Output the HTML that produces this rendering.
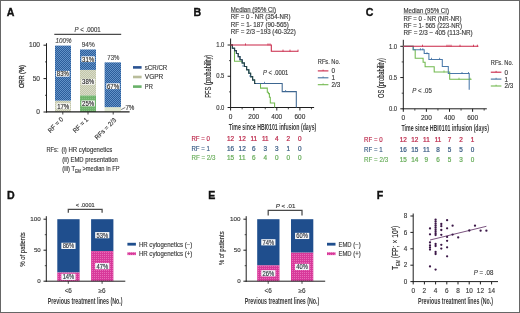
<!DOCTYPE html>
<html><head><meta charset="utf-8"><title>Figure</title>
<style>html,body{margin:0;padding:0;background:#fff;width:520px;height:313px;overflow:hidden;font-family:"Liberation Sans",sans-serif}svg{display:block;will-change:transform}</style>
</head><body><svg width="520" height="313" viewBox="0 0 520 313" font-family='"Liberation Sans", sans-serif'><defs>
<pattern id="pBlue" width="2" height="2" patternUnits="userSpaceOnUse"><rect width="2" height="2" fill="#2c5d9a"/><rect width="1" height="1" fill="#6292c8"/><rect x="1" y="1" width="1" height="1" fill="#6292c8"/></pattern>
<pattern id="pVg" width="2" height="2" patternUnits="userSpaceOnUse"><rect width="2" height="2" fill="#c2c6a8"/><rect width="1" height="1" fill="#d9dccb"/><rect x="1" y="1" width="1" height="1" fill="#d9dccb"/></pattern>
<pattern id="pPr" width="2" height="2" patternUnits="userSpaceOnUse"><rect width="2" height="2" fill="#6fb46c"/><rect width="1" height="1" fill="#86c283"/></pattern>
<pattern id="pPink" width="2" height="2" patternUnits="userSpaceOnUse"><rect width="2" height="2" fill="#d8399a"/><rect width="1" height="1" fill="#e86cb8"/></pattern>
</defs><rect x="0" y="0" width="520" height="313" fill="#fff"/><text x="6.8" y="15.6" font-size="10.6" fill="#111" font-weight="bold" stroke="#111" stroke-width="0.35">A</text><text x="193.5" y="15.7" font-size="10.6" fill="#111" font-weight="bold" stroke="#111" stroke-width="0.35">B</text><text x="365.8" y="16.3" font-size="10.6" fill="#111" font-weight="bold" stroke="#111" stroke-width="0.35">C</text><text x="7.0" y="199.0" font-size="10.6" fill="#111" font-weight="bold" stroke="#111" stroke-width="0.35">D</text><text x="208.2" y="199.2" font-size="10.6" fill="#111" font-weight="bold" stroke="#111" stroke-width="0.35">E</text><text x="376.8" y="199.2" font-size="10.6" fill="#111" font-weight="bold" stroke="#111" stroke-width="0.35">F</text><rect x="55" y="100.644" width="16" height="11.355999999999995" fill="url(#pVg)"/><rect x="55" y="45.60079999999999" width="16" height="55.04320000000001" fill="url(#pBlue)"/><rect x="80" y="95.3" width="16" height="16.700000000000003" fill="url(#pPr)"/><rect x="80" y="69.916" width="16" height="25.384" fill="url(#pVg)"/><rect x="80" y="49.4752" width="16" height="20.440799999999996" fill="url(#pBlue)"/><rect x="104.6" y="107.1236" width="16.4" height="4.876400000000004" fill="#dde5cf"/><rect x="104.6" y="62.3676" width="16.4" height="44.75599999999999" fill="url(#pBlue)"/><rect x="56.099999999999994" y="70.89999999999999" width="13.4" height="5.8" fill="#fafaf8"/><text x="62.8" y="76.25" font-size="6.8" fill="#262626" text-anchor="middle" textLength="12.0" lengthAdjust="spacingAndGlyphs" stroke="#262626" stroke-width="0.15">83%</text><rect x="56.5" y="103.3" width="13.4" height="5.8" fill="#fafaf8"/><text x="63.2" y="108.65" font-size="6.8" fill="#262626" text-anchor="middle" textLength="12.0" lengthAdjust="spacingAndGlyphs" stroke="#262626" stroke-width="0.15">17%</text><rect x="81.39999999999999" y="56.300000000000004" width="13.4" height="5.8" fill="#fafaf8"/><text x="88.1" y="61.650000000000006" font-size="6.8" fill="#262626" text-anchor="middle" textLength="12.0" lengthAdjust="spacingAndGlyphs" stroke="#262626" stroke-width="0.15">31%</text><rect x="81.39999999999999" y="78.89999999999999" width="13.4" height="5.8" fill="#fafaf8"/><text x="88.1" y="84.25" font-size="6.8" fill="#262626" text-anchor="middle" textLength="12.0" lengthAdjust="spacingAndGlyphs" stroke="#262626" stroke-width="0.15">38%</text><rect x="81.39999999999999" y="100.5" width="13.4" height="5.8" fill="#fafaf8"/><text x="88.1" y="105.85000000000001" font-size="6.8" fill="#262626" text-anchor="middle" textLength="12.0" lengthAdjust="spacingAndGlyphs" stroke="#262626" stroke-width="0.15">25%</text><rect x="106.3" y="83.3" width="13.4" height="5.8" fill="#fafaf8"/><text x="113.0" y="88.65" font-size="6.8" fill="#262626" text-anchor="middle" textLength="12.0" lengthAdjust="spacingAndGlyphs" stroke="#262626" stroke-width="0.15">67%</text><text x="63.6" y="42.6" font-size="6.4" fill="#4a4a4a" text-anchor="middle" font-style="italic" textLength="16" lengthAdjust="spacingAndGlyphs" stroke="#4a4a4a" stroke-width="0.15">100%</text><text x="88.2" y="46.6" font-size="6.4" fill="#4a4a4a" text-anchor="middle" textLength="13" lengthAdjust="spacingAndGlyphs" stroke="#4a4a4a" stroke-width="0.15">94%</text><text x="113.3" y="59.9" font-size="6.4" fill="#4a4a4a" text-anchor="middle" textLength="12" lengthAdjust="spacingAndGlyphs" stroke="#4a4a4a" stroke-width="0.15">73%</text><path d="M121.2,109.6 L125.3,107.4" stroke="#444" stroke-width="0.7" fill="none"/><text x="125.4" y="109.7" font-size="6.5" fill="#3a3a3a" textLength="9" lengthAdjust="spacingAndGlyphs" stroke="#3a3a3a" stroke-width="0.15">7%</text><line x1="46.5" y1="43.2" x2="46.5" y2="112.5" stroke="#1e1e1e" stroke-width="1"/><line x1="46" y1="111.9" x2="129.6" y2="111.9" stroke="#1e1e1e" stroke-width="1.25"/><line x1="43.5" y1="45.2" x2="46.5" y2="45.2" stroke="#1e1e1e" stroke-width="1"/><line x1="43.5" y1="78.6" x2="46.5" y2="78.6" stroke="#1e1e1e" stroke-width="1"/><line x1="43.5" y1="112.0" x2="46.5" y2="112.0" stroke="#1e1e1e" stroke-width="1"/><line x1="45" y1="61.9" x2="46.5" y2="61.9" stroke="#1e1e1e" stroke-width="0.8"/><line x1="45" y1="95.3" x2="46.5" y2="95.3" stroke="#1e1e1e" stroke-width="0.8"/><line x1="62.8" y1="112" x2="62.8" y2="114.5" stroke="#1e1e1e" stroke-width="0.8"/><line x1="88" y1="112" x2="88" y2="114.5" stroke="#1e1e1e" stroke-width="0.8"/><line x1="113.2" y1="112" x2="113.2" y2="114.5" stroke="#1e1e1e" stroke-width="0.8"/><text x="40" y="47.400000000000006" font-size="6.6" fill="#3a3a3a" text-anchor="end" stroke="#3a3a3a" stroke-width="0.15">100</text><text x="40" y="80.8" font-size="6.6" fill="#3a3a3a" text-anchor="end" stroke="#3a3a3a" stroke-width="0.15">50</text><text x="40" y="114.2" font-size="6.6" fill="#3a3a3a" text-anchor="end" stroke="#3a3a3a" stroke-width="0.15">0</text><text x="23.9" y="76.6" font-size="7.4" fill="#2e2e2e" text-anchor="middle" textLength="23" lengthAdjust="spacingAndGlyphs" transform="rotate(-90 23.9 76.6)" stroke="#2e2e2e" stroke-width="0.3">ORR (%)</text><line x1="54.3" y1="34.3" x2="121.2" y2="34.3" stroke="#1e1e1e" stroke-width="1"/><text x="74.6" y="32.0" font-size="6.4" fill="#3a3a3a" textLength="26" lengthAdjust="spacingAndGlyphs" stroke="#3a3a3a" stroke-width="0.15"><tspan font-style="italic">P</tspan> &lt; .0001</text><text x="63.7" y="119.9" font-size="6.5" fill="#3a3a3a" text-anchor="end" textLength="18.8" lengthAdjust="spacingAndGlyphs" transform="rotate(-45 63.7 119.9)" stroke="#3a3a3a" stroke-width="0.15">RF = 0</text><text x="88.6" y="120.2" font-size="6.5" fill="#3a3a3a" text-anchor="end" textLength="18.5" lengthAdjust="spacingAndGlyphs" transform="rotate(-45 88.6 120.2)" stroke="#3a3a3a" stroke-width="0.15">RF = 1</text><text x="116.8" y="120.6" font-size="6.5" fill="#3a3a3a" text-anchor="end" textLength="27.5" lengthAdjust="spacingAndGlyphs" transform="rotate(-45 116.8 120.6)" stroke="#3a3a3a" stroke-width="0.15">RFs = 2/3</text><rect x="133" y="66.10000000000001" width="8.6" height="2.6" fill="#2b5392"/><text x="144.8" y="69.7" font-size="6.5" fill="#3a3a3a" textLength="22.5" lengthAdjust="spacingAndGlyphs" stroke="#3a3a3a" stroke-width="0.15">sCR/CR</text><rect x="133" y="75.7" width="8.6" height="2.6" fill="#b9bd9b"/><text x="144.8" y="79.3" font-size="6.5" fill="#3a3a3a" textLength="18.5" lengthAdjust="spacingAndGlyphs" stroke="#3a3a3a" stroke-width="0.15">VGPR</text><rect x="133" y="85.30000000000001" width="8.6" height="2.6" fill="#69b169"/><text x="144.8" y="88.9" font-size="6.5" fill="#3a3a3a" textLength="8" lengthAdjust="spacingAndGlyphs" stroke="#3a3a3a" stroke-width="0.15">PR</text><text x="46.5" y="151.8" font-size="6.5" fill="#3a3a3a" textLength="12" lengthAdjust="spacingAndGlyphs" stroke="#3a3a3a" stroke-width="0.15">RFs:</text><text x="61.5" y="151.8" font-size="6.5" fill="#3a3a3a" textLength="50.8" lengthAdjust="spacingAndGlyphs" stroke="#3a3a3a" stroke-width="0.15">(i) HR cytogenetics</text><text x="62.3" y="161.8" font-size="6.5" fill="#3a3a3a" textLength="55.4" lengthAdjust="spacingAndGlyphs" stroke="#3a3a3a" stroke-width="0.15">(ii) EMD presentation</text><text x="62.3" y="171.2" font-size="6.5" fill="#3a3a3a" textLength="57.2" lengthAdjust="spacingAndGlyphs" stroke="#3a3a3a" stroke-width="0.15">(iii) T<tspan font-size="4.5" dy="1.5">EM</tspan><tspan dy="-1.5"> &gt;median in FP</tspan></text><text x="230.79999999999998" y="11.799999999999997" font-size="6.3" fill="#3a3a3a" textLength="45.2" lengthAdjust="spacingAndGlyphs" stroke="#3a3a3a" stroke-width="0.15">Median (95% CI)</text><line x1="230.79999999999998" y1="12.600000000000001" x2="276.0" y2="12.600000000000001" stroke="#555" stroke-width="0.5"/><text x="230.79999999999998" y="19.2" font-size="6.35" fill="#3a3a3a" textLength="59.7" lengthAdjust="spacingAndGlyphs" stroke="#3a3a3a" stroke-width="0.15">RF = 0 - NR (354-NR)</text><text x="230.79999999999998" y="26.5" font-size="6.35" fill="#3a3a3a" textLength="58.1" lengthAdjust="spacingAndGlyphs" stroke="#3a3a3a" stroke-width="0.15">RF = 1- 187 (90-565)</text><text x="230.79999999999998" y="33.8" font-size="6.35" fill="#3a3a3a" textLength="65.1" lengthAdjust="spacingAndGlyphs" stroke="#3a3a3a" stroke-width="0.15">RF = 2/3 −193 (40-322)</text><line x1="230.6" y1="38.5" x2="230.6" y2="108.0" stroke="#1e1e1e" stroke-width="1"/><line x1="230.1" y1="107.5" x2="314.1" y2="107.5" stroke="#1e1e1e" stroke-width="1"/><line x1="227.6" y1="45.0" x2="230.6" y2="45.0" stroke="#1e1e1e" stroke-width="1"/><line x1="227.6" y1="76.25" x2="230.6" y2="76.25" stroke="#1e1e1e" stroke-width="1"/><line x1="227.6" y1="107.5" x2="230.6" y2="107.5" stroke="#1e1e1e" stroke-width="1"/><line x1="229.0" y1="60.625" x2="230.6" y2="60.625" stroke="#1e1e1e" stroke-width="0.8"/><line x1="229.0" y1="91.875" x2="230.6" y2="91.875" stroke="#1e1e1e" stroke-width="0.8"/><line x1="230.6" y1="107.5" x2="230.6" y2="110.5" stroke="#1e1e1e" stroke-width="1"/><line x1="242.15" y1="107.5" x2="242.15" y2="109.3" stroke="#1e1e1e" stroke-width="0.8"/><line x1="253.7" y1="107.5" x2="253.7" y2="110.5" stroke="#1e1e1e" stroke-width="1"/><line x1="265.25" y1="107.5" x2="265.25" y2="109.3" stroke="#1e1e1e" stroke-width="0.8"/><line x1="276.8" y1="107.5" x2="276.8" y2="110.5" stroke="#1e1e1e" stroke-width="1"/><line x1="288.35" y1="107.5" x2="288.35" y2="109.3" stroke="#1e1e1e" stroke-width="0.8"/><line x1="299.9" y1="107.5" x2="299.9" y2="110.5" stroke="#1e1e1e" stroke-width="1"/><line x1="311.45" y1="107.5" x2="311.45" y2="109.3" stroke="#1e1e1e" stroke-width="0.8"/><text x="224.4" y="47.2" font-size="6.4" fill="#3a3a3a" text-anchor="end" textLength="8.2" lengthAdjust="spacingAndGlyphs" stroke="#3a3a3a" stroke-width="0.15">1.0</text><text x="224.4" y="78.45" font-size="6.4" fill="#3a3a3a" text-anchor="end" textLength="8.2" lengthAdjust="spacingAndGlyphs" stroke="#3a3a3a" stroke-width="0.15">0.5</text><text x="224.4" y="109.7" font-size="6.4" fill="#3a3a3a" text-anchor="end" textLength="8.2" lengthAdjust="spacingAndGlyphs" stroke="#3a3a3a" stroke-width="0.15">0.0</text><text x="230.6" y="119.0" font-size="6.5" fill="#3a3a3a" text-anchor="middle" stroke="#3a3a3a" stroke-width="0.15">0</text><text x="253.7" y="119.0" font-size="6.5" fill="#3a3a3a" text-anchor="middle" stroke="#3a3a3a" stroke-width="0.15">200</text><text x="276.8" y="119.0" font-size="6.5" fill="#3a3a3a" text-anchor="middle" stroke="#3a3a3a" stroke-width="0.15">400</text><text x="299.9" y="119.0" font-size="6.5" fill="#3a3a3a" text-anchor="middle" stroke="#3a3a3a" stroke-width="0.15">600</text><text x="228.79999999999998" y="130.1" font-size="8.4" fill="#3a3a3a" font-weight="bold" textLength="87.5" lengthAdjust="spacingAndGlyphs">Time since HBI0101 infusion (days)</text><text x="210.6" y="76.3" font-size="8.6" fill="#1a1a1a" text-anchor="middle" textLength="43.1" lengthAdjust="spacingAndGlyphs" transform="rotate(-90 210.6 76.3)" stroke="#1a1a1a" stroke-width="0.12">PFS (probability)</text><text x="263.0" y="75.3" font-size="6.4" fill="#3a3a3a" textLength="25.2" lengthAdjust="spacingAndGlyphs" stroke="#3a3a3a" stroke-width="0.15"><tspan font-style="italic">P</tspan> &lt; .0001</text><path d="M230.6,45 H232.4 V48.2 H234.5 V61.2 H242.2 V63 H244.4 V66.4 H246.6 V69.8 H248.8 V73.2 H250.6 V76.6 H252.6 V80 H254.6 V83.4 H260.5 V88.1 H267.3 V92.2 H268.4 V93.6 H269.4 V97.2 H270.3 V103 H274.6 V107.5" stroke="#72b94f" stroke-width="1.05" fill="none" stroke-linejoin="miter"/><path d="M231,45 H232.4 V48.2 H234.6 V50.6 H236.4 V53.5 H238.2 V56.6 H240 V59.8 H242.2 V63 H244.4 V66.4 H246.6 V69.8 H248.8 V73.2 H250.6 V76.6 H252.6 V80 H254.6 V83.4 H282.2 V91.6 H296.3 V107.5" stroke="#3d6690" stroke-width="1.05" fill="none" stroke-linejoin="miter"/><path d="M231,45 H232.4 V48.2 H234.6 V50.6 H236.4 V53.5 H238.2 V56.6 H240 V59.8 H242.2 V63 H244.4 V66.4 H246.6 V69.8 H248.8 V73.2 H250.6 V76.6 H252.6 V80 H254.6 V83.4 H256" stroke="#27424a" stroke-width="1.05" fill="none" stroke-linejoin="miter"/><path d="M230.6,45 H271.3 V51.2 H298.3" stroke="#c92446" stroke-width="1.05" fill="none" stroke-linejoin="miter"/><line x1="245.5" y1="43.4" x2="245.5" y2="45.4" stroke="#c92446" stroke-width="0.8"/><line x1="268" y1="43.4" x2="268" y2="45.4" stroke="#c92446" stroke-width="0.8"/><line x1="270" y1="43.4" x2="270" y2="45.4" stroke="#c92446" stroke-width="0.8"/><line x1="283" y1="49.6" x2="283" y2="51.6" stroke="#c92446" stroke-width="0.8"/><line x1="290" y1="49.6" x2="290" y2="51.6" stroke="#c92446" stroke-width="0.8"/><line x1="298" y1="49.6" x2="298" y2="51.6" stroke="#c92446" stroke-width="0.8"/><line x1="264.5" y1="81.80000000000001" x2="264.5" y2="83.80000000000001" stroke="#42709f" stroke-width="0.8"/><line x1="285.6" y1="90.0" x2="285.6" y2="92.0" stroke="#42709f" stroke-width="0.8"/><line x1="243" y1="64.80000000000001" x2="243" y2="66.80000000000001" stroke="#42709f" stroke-width="0.8"/><line x1="250" y1="75.0" x2="250" y2="77.0" stroke="#42709f" stroke-width="0.8"/><text x="317.8" y="63.6" font-size="6.3" fill="#3a3a3a" textLength="22.3" lengthAdjust="spacingAndGlyphs" stroke="#3a3a3a" stroke-width="0.15">RFs. No.</text><line x1="317.8" y1="70.9" x2="328.40000000000003" y2="70.9" stroke="#c92446" stroke-width="1.1"/><line x1="323.1" y1="69.60000000000001" x2="323.1" y2="70.9" stroke="#c92446" stroke-width="0.8"/><text x="331.40000000000003" y="73.30000000000001" font-size="6.3" fill="#3a3a3a" stroke="#3a3a3a" stroke-width="0.15">0</text><line x1="317.8" y1="77.80000000000001" x2="328.40000000000003" y2="77.80000000000001" stroke="#42709f" stroke-width="1.1"/><line x1="323.1" y1="76.50000000000001" x2="323.1" y2="77.80000000000001" stroke="#42709f" stroke-width="0.8"/><text x="331.40000000000003" y="80.20000000000002" font-size="6.3" fill="#3a3a3a" stroke="#3a3a3a" stroke-width="0.15">1</text><line x1="317.8" y1="84.7" x2="328.40000000000003" y2="84.7" stroke="#72b94f" stroke-width="1.1"/><line x1="323.1" y1="83.4" x2="323.1" y2="84.7" stroke="#72b94f" stroke-width="0.8"/><text x="331.40000000000003" y="87.10000000000001" font-size="6.3" fill="#3a3a3a" stroke="#3a3a3a" stroke-width="0.15">2/3</text><text x="191.39999999999998" y="140.8" font-size="6.35" fill="#bd2a4c" textLength="18.5" lengthAdjust="spacingAndGlyphs" stroke="#bd2a4c" stroke-width="0.15">RF = 0</text><text x="230.6" y="140.8" font-size="6.4" fill="#bd2a4c" text-anchor="middle" stroke="#bd2a4c" stroke-width="0.22">12</text><text x="242.15" y="140.8" font-size="6.4" fill="#bd2a4c" text-anchor="middle" stroke="#bd2a4c" stroke-width="0.22">12</text><text x="253.7" y="140.8" font-size="6.4" fill="#bd2a4c" text-anchor="middle" stroke="#bd2a4c" stroke-width="0.22">11</text><text x="265.25" y="140.8" font-size="6.4" fill="#bd2a4c" text-anchor="middle" stroke="#bd2a4c" stroke-width="0.22">11</text><text x="276.8" y="140.8" font-size="6.4" fill="#bd2a4c" text-anchor="middle" stroke="#bd2a4c" stroke-width="0.22">4</text><text x="288.35" y="140.8" font-size="6.4" fill="#bd2a4c" text-anchor="middle" stroke="#bd2a4c" stroke-width="0.22">2</text><text x="299.9" y="140.8" font-size="6.4" fill="#bd2a4c" text-anchor="middle" stroke="#bd2a4c" stroke-width="0.22">0</text><text x="191.39999999999998" y="150.5" font-size="6.35" fill="#3a5c84" textLength="18.5" lengthAdjust="spacingAndGlyphs" stroke="#3a5c84" stroke-width="0.15">RF = 1</text><text x="230.6" y="150.5" font-size="6.4" fill="#3a5c84" text-anchor="middle" stroke="#3a5c84" stroke-width="0.22">16</text><text x="242.15" y="150.5" font-size="6.4" fill="#3a5c84" text-anchor="middle" stroke="#3a5c84" stroke-width="0.22">12</text><text x="253.7" y="150.5" font-size="6.4" fill="#3a5c84" text-anchor="middle" stroke="#3a5c84" stroke-width="0.22">6</text><text x="265.25" y="150.5" font-size="6.4" fill="#3a5c84" text-anchor="middle" stroke="#3a5c84" stroke-width="0.22">3</text><text x="276.8" y="150.5" font-size="6.4" fill="#3a5c84" text-anchor="middle" stroke="#3a5c84" stroke-width="0.22">3</text><text x="288.35" y="150.5" font-size="6.4" fill="#3a5c84" text-anchor="middle" stroke="#3a5c84" stroke-width="0.22">1</text><text x="299.9" y="150.5" font-size="6.4" fill="#3a5c84" text-anchor="middle" stroke="#3a5c84" stroke-width="0.22">0</text><text x="191.39999999999998" y="160.20000000000002" font-size="6.35" fill="#68ad5a" textLength="24" lengthAdjust="spacingAndGlyphs" stroke="#68ad5a" stroke-width="0.15">RF = 2/3</text><text x="230.6" y="160.20000000000002" font-size="6.4" fill="#68ad5a" text-anchor="middle" stroke="#68ad5a" stroke-width="0.22">15</text><text x="242.15" y="160.20000000000002" font-size="6.4" fill="#68ad5a" text-anchor="middle" stroke="#68ad5a" stroke-width="0.22">11</text><text x="253.7" y="160.20000000000002" font-size="6.4" fill="#68ad5a" text-anchor="middle" stroke="#68ad5a" stroke-width="0.22">6</text><text x="265.25" y="160.20000000000002" font-size="6.4" fill="#68ad5a" text-anchor="middle" stroke="#68ad5a" stroke-width="0.22">4</text><text x="276.8" y="160.20000000000002" font-size="6.4" fill="#68ad5a" text-anchor="middle" stroke="#68ad5a" stroke-width="0.22">0</text><text x="288.35" y="160.20000000000002" font-size="6.4" fill="#68ad5a" text-anchor="middle" stroke="#68ad5a" stroke-width="0.22">0</text><text x="299.9" y="160.20000000000002" font-size="6.4" fill="#68ad5a" text-anchor="middle" stroke="#68ad5a" stroke-width="0.22">0</text><text x="403.5" y="13.099999999999994" font-size="6.3" fill="#3a3a3a" textLength="45.4" lengthAdjust="spacingAndGlyphs" stroke="#3a3a3a" stroke-width="0.15">Median (95% CI)</text><line x1="403.5" y1="13.899999999999999" x2="448.9" y2="13.899999999999999" stroke="#555" stroke-width="0.5"/><text x="403.5" y="20.499999999999996" font-size="6.35" fill="#3a3a3a" textLength="58.0" lengthAdjust="spacingAndGlyphs" stroke="#3a3a3a" stroke-width="0.15">RF = 0 - NR (NR-NR)</text><text x="403.5" y="27.799999999999997" font-size="6.35" fill="#3a3a3a" textLength="58.4" lengthAdjust="spacingAndGlyphs" stroke="#3a3a3a" stroke-width="0.15">RF = 1- 565 (223-NR)</text><text x="403.5" y="35.099999999999994" font-size="6.35" fill="#3a3a3a" textLength="69.2" lengthAdjust="spacingAndGlyphs" stroke="#3a3a3a" stroke-width="0.15">RF = 2/3 − 405 (113-NR)</text><line x1="403.3" y1="39.8" x2="403.3" y2="109.3" stroke="#1e1e1e" stroke-width="1"/><line x1="402.8" y1="108.8" x2="486.8" y2="108.8" stroke="#1e1e1e" stroke-width="1"/><line x1="400.3" y1="46.3" x2="403.3" y2="46.3" stroke="#1e1e1e" stroke-width="1"/><line x1="400.3" y1="77.55" x2="403.3" y2="77.55" stroke="#1e1e1e" stroke-width="1"/><line x1="400.3" y1="108.8" x2="403.3" y2="108.8" stroke="#1e1e1e" stroke-width="1"/><line x1="401.7" y1="61.925" x2="403.3" y2="61.925" stroke="#1e1e1e" stroke-width="0.8"/><line x1="401.7" y1="93.175" x2="403.3" y2="93.175" stroke="#1e1e1e" stroke-width="0.8"/><line x1="403.3" y1="108.8" x2="403.3" y2="111.8" stroke="#1e1e1e" stroke-width="1"/><line x1="414.85" y1="108.8" x2="414.85" y2="110.6" stroke="#1e1e1e" stroke-width="0.8"/><line x1="426.40000000000003" y1="108.8" x2="426.40000000000003" y2="111.8" stroke="#1e1e1e" stroke-width="1"/><line x1="437.95" y1="108.8" x2="437.95" y2="110.6" stroke="#1e1e1e" stroke-width="0.8"/><line x1="449.5" y1="108.8" x2="449.5" y2="111.8" stroke="#1e1e1e" stroke-width="1"/><line x1="461.05" y1="108.8" x2="461.05" y2="110.6" stroke="#1e1e1e" stroke-width="0.8"/><line x1="472.6" y1="108.8" x2="472.6" y2="111.8" stroke="#1e1e1e" stroke-width="1"/><line x1="484.15000000000003" y1="108.8" x2="484.15000000000003" y2="110.6" stroke="#1e1e1e" stroke-width="0.8"/><text x="397.1" y="48.5" font-size="6.4" fill="#3a3a3a" text-anchor="end" textLength="8.2" lengthAdjust="spacingAndGlyphs" stroke="#3a3a3a" stroke-width="0.15">1.0</text><text x="397.1" y="79.75" font-size="6.4" fill="#3a3a3a" text-anchor="end" textLength="8.2" lengthAdjust="spacingAndGlyphs" stroke="#3a3a3a" stroke-width="0.15">0.5</text><text x="397.1" y="111.0" font-size="6.4" fill="#3a3a3a" text-anchor="end" textLength="8.2" lengthAdjust="spacingAndGlyphs" stroke="#3a3a3a" stroke-width="0.15">0.0</text><text x="403.3" y="120.3" font-size="6.5" fill="#3a3a3a" text-anchor="middle" stroke="#3a3a3a" stroke-width="0.15">0</text><text x="426.40000000000003" y="120.3" font-size="6.5" fill="#3a3a3a" text-anchor="middle" stroke="#3a3a3a" stroke-width="0.15">200</text><text x="449.5" y="120.3" font-size="6.5" fill="#3a3a3a" text-anchor="middle" stroke="#3a3a3a" stroke-width="0.15">400</text><text x="472.6" y="120.3" font-size="6.5" fill="#3a3a3a" text-anchor="middle" stroke="#3a3a3a" stroke-width="0.15">600</text><text x="401.5" y="131.4" font-size="8.4" fill="#3a3a3a" font-weight="bold" textLength="87.5" lengthAdjust="spacingAndGlyphs">Time since HBI0101 infusion (days)</text><text x="383.7" y="78.0" font-size="8.6" fill="#1a1a1a" text-anchor="middle" textLength="39.9" lengthAdjust="spacingAndGlyphs" transform="rotate(-90 383.7 78.0)" stroke="#1a1a1a" stroke-width="0.12">OS (probability)</text><text x="412.3" y="93.1" font-size="6.4" fill="#3a3a3a" textLength="19.5" lengthAdjust="spacingAndGlyphs" stroke="#3a3a3a" stroke-width="0.15"><tspan font-style="italic">P</tspan> &lt; .05</text><path d="M403.3,46.3 H413.2 V49.8 H415.2 V58.2 H423.1 V62.2 H425.1 V66.7 H434.2 V72 H449.7 V79.3 H471.6" stroke="#72b94f" stroke-width="1.05" fill="none" stroke-linejoin="miter"/><path d="M403.3,46.3 H413.2 V49.8 H424.2 V53.5 H428.9 V59.5 H442.3 V66.5 H448.3 V73.5 H469.2 V89.8" stroke="#4a79aa" stroke-width="1.05" fill="none" stroke-linejoin="miter"/><path d="M403.3,46.3 H478.4" stroke="#c92446" stroke-width="1.05" fill="none" stroke-linejoin="miter"/><line x1="422.5" y1="44.699999999999996" x2="422.5" y2="46.699999999999996" stroke="#c92446" stroke-width="0.8"/><line x1="447" y1="44.699999999999996" x2="447" y2="46.699999999999996" stroke="#c92446" stroke-width="0.8"/><line x1="449" y1="44.699999999999996" x2="449" y2="46.699999999999996" stroke="#c92446" stroke-width="0.8"/><line x1="451" y1="44.699999999999996" x2="451" y2="46.699999999999996" stroke="#c92446" stroke-width="0.8"/><line x1="460" y1="44.699999999999996" x2="460" y2="46.699999999999996" stroke="#c92446" stroke-width="0.8"/><line x1="473.5" y1="44.699999999999996" x2="473.5" y2="46.699999999999996" stroke="#c92446" stroke-width="0.8"/><line x1="477.4" y1="44.699999999999996" x2="477.4" y2="46.699999999999996" stroke="#c92446" stroke-width="0.8"/><line x1="420.4" y1="48.199999999999996" x2="420.4" y2="50.199999999999996" stroke="#42709f" stroke-width="0.8"/><line x1="422.8" y1="48.199999999999996" x2="422.8" y2="50.199999999999996" stroke="#42709f" stroke-width="0.8"/><line x1="427" y1="52.199999999999996" x2="427" y2="54.199999999999996" stroke="#42709f" stroke-width="0.8"/><line x1="431.5" y1="57.8" x2="431.5" y2="59.8" stroke="#42709f" stroke-width="0.8"/><line x1="439.6" y1="57.8" x2="439.6" y2="59.8" stroke="#42709f" stroke-width="0.8"/><line x1="462" y1="72.0" x2="462" y2="74.0" stroke="#42709f" stroke-width="0.8"/><line x1="468.5" y1="72.0" x2="468.5" y2="74.0" stroke="#42709f" stroke-width="0.8"/><line x1="444" y1="70.4" x2="444" y2="72.4" stroke="#72b94f" stroke-width="0.8"/><line x1="459" y1="77.7" x2="459" y2="79.7" stroke="#72b94f" stroke-width="0.8"/><line x1="470" y1="77.7" x2="470" y2="79.7" stroke="#72b94f" stroke-width="0.8"/><text x="490.8" y="64.9" font-size="6.3" fill="#3a3a3a" textLength="22.3" lengthAdjust="spacingAndGlyphs" stroke="#3a3a3a" stroke-width="0.15">RFs. No.</text><line x1="490.8" y1="72.2" x2="501.40000000000003" y2="72.2" stroke="#c92446" stroke-width="1.1"/><line x1="496.1" y1="70.9" x2="496.1" y2="72.2" stroke="#c92446" stroke-width="0.8"/><text x="504.40000000000003" y="74.60000000000001" font-size="6.3" fill="#3a3a3a" stroke="#3a3a3a" stroke-width="0.15">0</text><line x1="490.8" y1="79.10000000000001" x2="501.40000000000003" y2="79.10000000000001" stroke="#42709f" stroke-width="1.1"/><line x1="496.1" y1="77.80000000000001" x2="496.1" y2="79.10000000000001" stroke="#42709f" stroke-width="0.8"/><text x="504.40000000000003" y="81.50000000000001" font-size="6.3" fill="#3a3a3a" stroke="#3a3a3a" stroke-width="0.15">1</text><line x1="490.8" y1="86.0" x2="501.40000000000003" y2="86.0" stroke="#72b94f" stroke-width="1.1"/><line x1="496.1" y1="84.7" x2="496.1" y2="86.0" stroke="#72b94f" stroke-width="0.8"/><text x="504.40000000000003" y="88.4" font-size="6.3" fill="#3a3a3a" stroke="#3a3a3a" stroke-width="0.15">2/3</text><text x="364.1" y="142.1" font-size="6.35" fill="#bd2a4c" textLength="18.5" lengthAdjust="spacingAndGlyphs" stroke="#bd2a4c" stroke-width="0.15">RF = 0</text><text x="403.3" y="142.1" font-size="6.4" fill="#bd2a4c" text-anchor="middle" stroke="#bd2a4c" stroke-width="0.22">12</text><text x="414.85" y="142.1" font-size="6.4" fill="#bd2a4c" text-anchor="middle" stroke="#bd2a4c" stroke-width="0.22">12</text><text x="426.40000000000003" y="142.1" font-size="6.4" fill="#bd2a4c" text-anchor="middle" stroke="#bd2a4c" stroke-width="0.22">11</text><text x="437.95" y="142.1" font-size="6.4" fill="#bd2a4c" text-anchor="middle" stroke="#bd2a4c" stroke-width="0.22">11</text><text x="449.5" y="142.1" font-size="6.4" fill="#bd2a4c" text-anchor="middle" stroke="#bd2a4c" stroke-width="0.22">7</text><text x="461.05" y="142.1" font-size="6.4" fill="#bd2a4c" text-anchor="middle" stroke="#bd2a4c" stroke-width="0.22">2</text><text x="472.6" y="142.1" font-size="6.4" fill="#bd2a4c" text-anchor="middle" stroke="#bd2a4c" stroke-width="0.22">1</text><text x="364.1" y="151.79999999999998" font-size="6.35" fill="#3a5c84" textLength="18.5" lengthAdjust="spacingAndGlyphs" stroke="#3a5c84" stroke-width="0.15">RF = 1</text><text x="403.3" y="151.79999999999998" font-size="6.4" fill="#3a5c84" text-anchor="middle" stroke="#3a5c84" stroke-width="0.22">16</text><text x="414.85" y="151.79999999999998" font-size="6.4" fill="#3a5c84" text-anchor="middle" stroke="#3a5c84" stroke-width="0.22">15</text><text x="426.40000000000003" y="151.79999999999998" font-size="6.4" fill="#3a5c84" text-anchor="middle" stroke="#3a5c84" stroke-width="0.22">11</text><text x="437.95" y="151.79999999999998" font-size="6.4" fill="#3a5c84" text-anchor="middle" stroke="#3a5c84" stroke-width="0.22">8</text><text x="449.5" y="151.79999999999998" font-size="6.4" fill="#3a5c84" text-anchor="middle" stroke="#3a5c84" stroke-width="0.22">5</text><text x="461.05" y="151.79999999999998" font-size="6.4" fill="#3a5c84" text-anchor="middle" stroke="#3a5c84" stroke-width="0.22">5</text><text x="472.6" y="151.79999999999998" font-size="6.4" fill="#3a5c84" text-anchor="middle" stroke="#3a5c84" stroke-width="0.22">0</text><text x="364.1" y="161.5" font-size="6.35" fill="#68ad5a" textLength="24" lengthAdjust="spacingAndGlyphs" stroke="#68ad5a" stroke-width="0.15">RF = 2/3</text><text x="403.3" y="161.5" font-size="6.4" fill="#68ad5a" text-anchor="middle" stroke="#68ad5a" stroke-width="0.22">15</text><text x="414.85" y="161.5" font-size="6.4" fill="#68ad5a" text-anchor="middle" stroke="#68ad5a" stroke-width="0.22">14</text><text x="426.40000000000003" y="161.5" font-size="6.4" fill="#68ad5a" text-anchor="middle" stroke="#68ad5a" stroke-width="0.22">9</text><text x="437.95" y="161.5" font-size="6.4" fill="#68ad5a" text-anchor="middle" stroke="#68ad5a" stroke-width="0.22">6</text><text x="449.5" y="161.5" font-size="6.4" fill="#68ad5a" text-anchor="middle" stroke="#68ad5a" stroke-width="0.22">5</text><text x="461.05" y="161.5" font-size="6.4" fill="#68ad5a" text-anchor="middle" stroke="#68ad5a" stroke-width="0.22">3</text><text x="472.6" y="161.5" font-size="6.4" fill="#68ad5a" text-anchor="middle" stroke="#68ad5a" stroke-width="0.22">0</text><rect x="57.3" y="219.2" width="22.3" height="53.31999999999999" fill="#1f4e8d"/><rect x="57.3" y="272.52" width="22.3" height="8.680000000000007" fill="url(#pPink)"/><rect x="61.35" y="242.76" width="14.2" height="6.2" fill="#f4f6f8"/><text x="68.45" y="248.30999999999997" font-size="6.9" fill="#303540" text-anchor="middle" textLength="11.6" lengthAdjust="spacingAndGlyphs" stroke="#303540" stroke-width="0.15">86%</text><rect x="61.35" y="273.76" width="14.2" height="6.2" fill="#f4f6f8"/><text x="68.45" y="279.31" font-size="6.9" fill="#303540" text-anchor="middle" textLength="11.6" lengthAdjust="spacingAndGlyphs" stroke="#303540" stroke-width="0.15">14%</text><rect x="91.1" y="219.2" width="22.3" height="31.930000000000007" fill="#1f4e8d"/><rect x="91.1" y="251.13" width="22.3" height="30.069999999999993" fill="url(#pPink)"/><rect x="95.15" y="232.065" width="14.2" height="6.2" fill="#f4f6f8"/><text x="102.25" y="237.61499999999998" font-size="6.9" fill="#303540" text-anchor="middle" textLength="11.6" lengthAdjust="spacingAndGlyphs" stroke="#303540" stroke-width="0.15">53%</text><rect x="95.15" y="263.06499999999994" width="14.2" height="6.2" fill="#f4f6f8"/><text x="102.25" y="268.61499999999995" font-size="6.9" fill="#303540" text-anchor="middle" textLength="11.6" lengthAdjust="spacingAndGlyphs" stroke="#303540" stroke-width="0.15">47%</text><line x1="46.3" y1="216.2" x2="46.3" y2="281.7" stroke="#1e1e1e" stroke-width="1"/><line x1="45.8" y1="281.2" x2="125.3" y2="281.2" stroke="#1e1e1e" stroke-width="1"/><line x1="43.5" y1="219.2" x2="46.3" y2="219.2" stroke="#1e1e1e" stroke-width="1"/><line x1="43.5" y1="250.2" x2="46.3" y2="250.2" stroke="#1e1e1e" stroke-width="1"/><line x1="43.5" y1="281.2" x2="46.3" y2="281.2" stroke="#1e1e1e" stroke-width="1"/><line x1="44.8" y1="234.7" x2="46.3" y2="234.7" stroke="#1e1e1e" stroke-width="0.8"/><line x1="44.8" y1="265.7" x2="46.3" y2="265.7" stroke="#1e1e1e" stroke-width="0.8"/><line x1="68.3" y1="281.2" x2="68.3" y2="283.8" stroke="#1e1e1e" stroke-width="0.8"/><line x1="102.1" y1="281.2" x2="102.1" y2="283.8" stroke="#1e1e1e" stroke-width="0.8"/><text x="40.699999999999996" y="221.29999999999998" font-size="6.2" fill="#3a3a3a" text-anchor="end" textLength="10.5" lengthAdjust="spacingAndGlyphs" stroke="#3a3a3a" stroke-width="0.15">100</text><text x="40.699999999999996" y="252.29999999999998" font-size="6.2" fill="#3a3a3a" text-anchor="end" textLength="6.8" lengthAdjust="spacingAndGlyphs" stroke="#3a3a3a" stroke-width="0.15">50</text><text x="40.699999999999996" y="283.3" font-size="6.2" fill="#3a3a3a" text-anchor="end" stroke="#3a3a3a" stroke-width="0.15">0</text><text x="68.3" y="293.2" font-size="6.4" fill="#3a3a3a" text-anchor="middle" stroke="#3a3a3a" stroke-width="0.15">&lt;6</text><text x="102.1" y="293.2" font-size="6.4" fill="#3a3a3a" text-anchor="middle" stroke="#3a3a3a" stroke-width="0.15">≥6</text><text x="47.8" y="304.2" font-size="8.8" fill="#3a3a3a" font-weight="bold" textLength="74.6" lengthAdjust="spacingAndGlyphs">Previous treatment lines (No.)</text><text x="24.8" y="249.5" font-size="7.8" fill="#2a2a2a" text-anchor="middle" textLength="34.7" lengthAdjust="spacingAndGlyphs" transform="rotate(-90 24.8 249.5)" stroke="#2a2a2a" stroke-width="0.15">% of patients</text><path d="M68.3,212.8 V209.4 H102.1 V212.8" stroke="#4a4a4a" stroke-width="1.25" fill="none"/><text x="75.7" y="207.3" font-size="6.2" fill="#3a3a3a" textLength="19" lengthAdjust="spacingAndGlyphs" stroke="#3a3a3a" stroke-width="0.15">&lt; .0001</text><rect x="127.4" y="242.79999999999998" width="8.5" height="2.8" fill="#1f4e8d"/><text x="138.9" y="246.5" font-size="6.5" fill="#3a3a3a" textLength="53.5" lengthAdjust="spacingAndGlyphs" stroke="#3a3a3a" stroke-width="0.15">HR cytogenetics (−)</text><rect x="127.4" y="252.29999999999998" width="8.5" height="2.8" fill="url(#pPink)"/><text x="138.9" y="256.0" font-size="6.5" fill="#3a3a3a" textLength="53.5" lengthAdjust="spacingAndGlyphs" stroke="#3a3a3a" stroke-width="0.15">HR cytogenetics (+)</text><rect x="257.2" y="219.2" width="22.3" height="46.19" fill="#1f4e8d"/><rect x="257.2" y="265.39" width="22.3" height="15.810000000000002" fill="url(#pPink)"/><rect x="261.24999999999994" y="239.195" width="14.2" height="6.2" fill="#f4f6f8"/><text x="268.34999999999997" y="244.74499999999998" font-size="6.9" fill="#303540" text-anchor="middle" textLength="11.6" lengthAdjust="spacingAndGlyphs" stroke="#303540" stroke-width="0.15">74%</text><rect x="261.24999999999994" y="270.19499999999994" width="14.2" height="6.2" fill="#f4f6f8"/><text x="268.34999999999997" y="275.74499999999995" font-size="6.9" fill="#303540" text-anchor="middle" textLength="11.6" lengthAdjust="spacingAndGlyphs" stroke="#303540" stroke-width="0.15">26%</text><rect x="291.0" y="219.2" width="22.3" height="33.47999999999999" fill="#1f4e8d"/><rect x="291.0" y="252.67999999999998" width="22.3" height="28.52000000000001" fill="url(#pPink)"/><rect x="295.04999999999995" y="232.84" width="14.2" height="6.2" fill="#f4f6f8"/><text x="302.15" y="238.39" font-size="6.9" fill="#303540" text-anchor="middle" textLength="11.6" lengthAdjust="spacingAndGlyphs" stroke="#303540" stroke-width="0.15">60%</text><rect x="295.04999999999995" y="263.84" width="14.2" height="6.2" fill="#f4f6f8"/><text x="302.15" y="269.39" font-size="6.9" fill="#303540" text-anchor="middle" textLength="11.6" lengthAdjust="spacingAndGlyphs" stroke="#303540" stroke-width="0.15">40%</text><line x1="246.2" y1="216.2" x2="246.2" y2="281.7" stroke="#1e1e1e" stroke-width="1"/><line x1="245.7" y1="281.2" x2="325.2" y2="281.2" stroke="#1e1e1e" stroke-width="1"/><line x1="243.39999999999998" y1="219.2" x2="246.2" y2="219.2" stroke="#1e1e1e" stroke-width="1"/><line x1="243.39999999999998" y1="250.2" x2="246.2" y2="250.2" stroke="#1e1e1e" stroke-width="1"/><line x1="243.39999999999998" y1="281.2" x2="246.2" y2="281.2" stroke="#1e1e1e" stroke-width="1"/><line x1="244.7" y1="234.7" x2="246.2" y2="234.7" stroke="#1e1e1e" stroke-width="0.8"/><line x1="244.7" y1="265.7" x2="246.2" y2="265.7" stroke="#1e1e1e" stroke-width="0.8"/><line x1="268.2" y1="281.2" x2="268.2" y2="283.8" stroke="#1e1e1e" stroke-width="0.8"/><line x1="302.0" y1="281.2" x2="302.0" y2="283.8" stroke="#1e1e1e" stroke-width="0.8"/><text x="240.6" y="221.29999999999998" font-size="6.2" fill="#3a3a3a" text-anchor="end" textLength="10.5" lengthAdjust="spacingAndGlyphs" stroke="#3a3a3a" stroke-width="0.15">100</text><text x="240.6" y="252.29999999999998" font-size="6.2" fill="#3a3a3a" text-anchor="end" textLength="6.8" lengthAdjust="spacingAndGlyphs" stroke="#3a3a3a" stroke-width="0.15">50</text><text x="240.6" y="283.3" font-size="6.2" fill="#3a3a3a" text-anchor="end" stroke="#3a3a3a" stroke-width="0.15">0</text><text x="268.2" y="293.2" font-size="6.4" fill="#3a3a3a" text-anchor="middle" stroke="#3a3a3a" stroke-width="0.15">&lt;6</text><text x="302.0" y="293.2" font-size="6.4" fill="#3a3a3a" text-anchor="middle" stroke="#3a3a3a" stroke-width="0.15">≥6</text><text x="244.8" y="304.2" font-size="8.8" fill="#3a3a3a" font-weight="bold" textLength="74.4" lengthAdjust="spacingAndGlyphs">Previous treatment lines (No.)</text><text x="224.2" y="248.2" font-size="7.8" fill="#2a2a2a" text-anchor="middle" textLength="33.6" lengthAdjust="spacingAndGlyphs" transform="rotate(-90 224.2 248.2)" stroke="#2a2a2a" stroke-width="0.15">% of patients</text><path d="M268.2,215.4 V210.4 H302.0 V215.4" stroke="#4a4a4a" stroke-width="1.25" fill="none"/><text x="275.8" y="207.7" font-size="6.2" fill="#3a3a3a" textLength="19.6" lengthAdjust="spacingAndGlyphs" stroke="#3a3a3a" stroke-width="0.15"><tspan font-style="italic">P</tspan> &lt; .01</text><rect x="327" y="242.79999999999998" width="8.5" height="2.8" fill="#1f4e8d"/><text x="338.5" y="246.5" font-size="6.5" fill="#3a3a3a" textLength="22.1" lengthAdjust="spacingAndGlyphs" stroke="#3a3a3a" stroke-width="0.15">EMD (−)</text><rect x="327" y="252.29999999999998" width="8.5" height="2.8" fill="url(#pPink)"/><text x="338.5" y="256.0" font-size="6.5" fill="#3a3a3a" textLength="22.1" lengthAdjust="spacingAndGlyphs" stroke="#3a3a3a" stroke-width="0.15">EMD (+)</text><line x1="413.2" y1="213.5" x2="413.2" y2="282.1" stroke="#1e1e1e" stroke-width="1"/><line x1="412.7" y1="281.6" x2="498.0" y2="281.6" stroke="#1e1e1e" stroke-width="1"/><line x1="410.4" y1="281.6" x2="413.2" y2="281.6" stroke="#1e1e1e" stroke-width="1"/><text x="407.2" y="283.8" font-size="6.3" fill="#3a3a3a" text-anchor="end" stroke="#3a3a3a" stroke-width="0.15">0</text><line x1="410.4" y1="265.20000000000005" x2="413.2" y2="265.20000000000005" stroke="#1e1e1e" stroke-width="1"/><text x="407.2" y="267.40000000000003" font-size="6.3" fill="#3a3a3a" text-anchor="end" stroke="#3a3a3a" stroke-width="0.15">2</text><line x1="410.4" y1="248.8" x2="413.2" y2="248.8" stroke="#1e1e1e" stroke-width="1"/><text x="407.2" y="251.0" font-size="6.3" fill="#3a3a3a" text-anchor="end" stroke="#3a3a3a" stroke-width="0.15">4</text><line x1="410.4" y1="232.40000000000003" x2="413.2" y2="232.40000000000003" stroke="#1e1e1e" stroke-width="1"/><text x="407.2" y="234.60000000000002" font-size="6.3" fill="#3a3a3a" text-anchor="end" stroke="#3a3a3a" stroke-width="0.15">6</text><line x1="410.4" y1="216.00000000000003" x2="413.2" y2="216.00000000000003" stroke="#1e1e1e" stroke-width="1"/><text x="407.2" y="218.20000000000002" font-size="6.3" fill="#3a3a3a" text-anchor="end" stroke="#3a3a3a" stroke-width="0.15">8</text><line x1="413.2" y1="281.6" x2="413.2" y2="284.40000000000003" stroke="#1e1e1e" stroke-width="1"/><text x="413.2" y="293.0" font-size="6.4" fill="#3a3a3a" text-anchor="middle" stroke="#3a3a3a" stroke-width="0.15">0</text><line x1="424.4" y1="281.6" x2="424.4" y2="284.40000000000003" stroke="#1e1e1e" stroke-width="1"/><text x="424.4" y="293.0" font-size="6.4" fill="#3a3a3a" text-anchor="middle" stroke="#3a3a3a" stroke-width="0.15">2</text><line x1="435.59999999999997" y1="281.6" x2="435.59999999999997" y2="284.40000000000003" stroke="#1e1e1e" stroke-width="1"/><text x="435.59999999999997" y="293.0" font-size="6.4" fill="#3a3a3a" text-anchor="middle" stroke="#3a3a3a" stroke-width="0.15">4</text><line x1="446.79999999999995" y1="281.6" x2="446.79999999999995" y2="284.40000000000003" stroke="#1e1e1e" stroke-width="1"/><text x="446.79999999999995" y="293.0" font-size="6.4" fill="#3a3a3a" text-anchor="middle" stroke="#3a3a3a" stroke-width="0.15">6</text><line x1="458.0" y1="281.6" x2="458.0" y2="284.40000000000003" stroke="#1e1e1e" stroke-width="1"/><text x="458.0" y="293.0" font-size="6.4" fill="#3a3a3a" text-anchor="middle" stroke="#3a3a3a" stroke-width="0.15">8</text><line x1="469.2" y1="281.6" x2="469.2" y2="284.40000000000003" stroke="#1e1e1e" stroke-width="1"/><text x="469.2" y="293.0" font-size="6.4" fill="#3a3a3a" text-anchor="middle" stroke="#3a3a3a" stroke-width="0.15">10</text><line x1="480.4" y1="281.6" x2="480.4" y2="284.40000000000003" stroke="#1e1e1e" stroke-width="1"/><text x="480.4" y="293.0" font-size="6.4" fill="#3a3a3a" text-anchor="middle" stroke="#3a3a3a" stroke-width="0.15">12</text><line x1="491.59999999999997" y1="281.6" x2="491.59999999999997" y2="284.40000000000003" stroke="#1e1e1e" stroke-width="1"/><text x="491.59999999999997" y="293.0" font-size="6.4" fill="#3a3a3a" text-anchor="middle" stroke="#3a3a3a" stroke-width="0.15">14</text><text x="418.0" y="304.2" font-size="8.8" fill="#3a3a3a" font-weight="bold" textLength="75" lengthAdjust="spacingAndGlyphs">Previous treatment lines (No.)</text><text x="398.4" y="247.9" font-size="8.4" fill="#1a1a1a" text-anchor="middle" textLength="44.2" lengthAdjust="spacingAndGlyphs" transform="rotate(-90 398.4 247.9)" stroke="#1a1a1a" stroke-width="0.12">T<tspan font-size="4.6" dy="1.6">EM</tspan><tspan dy="-1.6"> (FP; × 10</tspan><tspan font-size="4.6" dy="-2.5">6</tspan><tspan dy="2.5">)</tspan></text><text x="473.8" y="274.8" font-size="6.4" fill="#3a3a3a" textLength="19.5" lengthAdjust="spacingAndGlyphs" stroke="#3a3a3a" stroke-width="0.15"><tspan font-style="italic">P</tspan> = .08</text><path d="M430,240 L486.4,226.3" stroke="#6b3f70" stroke-width="0.9" fill="none"/><circle cx="430" cy="228.4" r="1.15" fill="#3b1747"/><circle cx="430" cy="234.3" r="1.15" fill="#3b1747"/><circle cx="430" cy="242.4" r="1.15" fill="#3b1747"/><circle cx="430" cy="245.3" r="1.15" fill="#3b1747"/><circle cx="430" cy="247.5" r="1.15" fill="#3b1747"/><circle cx="430" cy="249.6" r="1.15" fill="#3b1747"/><circle cx="430" cy="266.4" r="1.15" fill="#3b1747"/><circle cx="435.6" cy="219.6" r="1.15" fill="#3b1747"/><circle cx="435.6" cy="221.5" r="1.15" fill="#3b1747"/><circle cx="435.6" cy="223.6" r="1.15" fill="#3b1747"/><circle cx="435.6" cy="225.5" r="1.15" fill="#3b1747"/><circle cx="435.6" cy="227.4" r="1.15" fill="#3b1747"/><circle cx="435.6" cy="229.3" r="1.15" fill="#3b1747"/><circle cx="435.6" cy="231.2" r="1.15" fill="#3b1747"/><circle cx="435.6" cy="233.2" r="1.15" fill="#3b1747"/><circle cx="435.6" cy="235" r="1.15" fill="#3b1747"/><circle cx="435.6" cy="244" r="1.15" fill="#3b1747"/><circle cx="435.6" cy="246" r="1.15" fill="#3b1747"/><circle cx="435.6" cy="252" r="1.15" fill="#3b1747"/><circle cx="435.6" cy="254" r="1.15" fill="#3b1747"/><circle cx="435.6" cy="269.6" r="1.15" fill="#3b1747"/><circle cx="441.3" cy="224" r="1.15" fill="#3b1747"/><circle cx="441.3" cy="226.2" r="1.15" fill="#3b1747"/><circle cx="441.3" cy="230" r="1.15" fill="#3b1747"/><circle cx="441.3" cy="234.8" r="1.15" fill="#3b1747"/><circle cx="441.3" cy="244.8" r="1.15" fill="#3b1747"/><circle cx="441.3" cy="248.6" r="1.15" fill="#3b1747"/><circle cx="447.1" cy="220.2" r="1.15" fill="#3b1747"/><circle cx="447.1" cy="228.3" r="1.15" fill="#3b1747"/><circle cx="447.1" cy="236.9" r="1.15" fill="#3b1747"/><circle cx="447.1" cy="240.8" r="1.15" fill="#3b1747"/><circle cx="447.1" cy="247.3" r="1.15" fill="#3b1747"/><circle cx="447.1" cy="256.3" r="1.15" fill="#3b1747"/><circle cx="452.6" cy="225.7" r="1.15" fill="#3b1747"/><circle cx="452.6" cy="234.6" r="1.15" fill="#3b1747"/><circle cx="458.2" cy="237.4" r="1.15" fill="#3b1747"/><circle cx="469.3" cy="230.5" r="1.15" fill="#3b1747"/><circle cx="475" cy="225.7" r="1.15" fill="#3b1747"/><circle cx="480.6" cy="230.7" r="1.15" fill="#3b1747"/><circle cx="486.4" cy="230.7" r="1.15" fill="#3b1747"/><rect x="0.5" y="0.5" width="519" height="312" fill="none" stroke="#666" stroke-width="1"/></svg></body></html>
